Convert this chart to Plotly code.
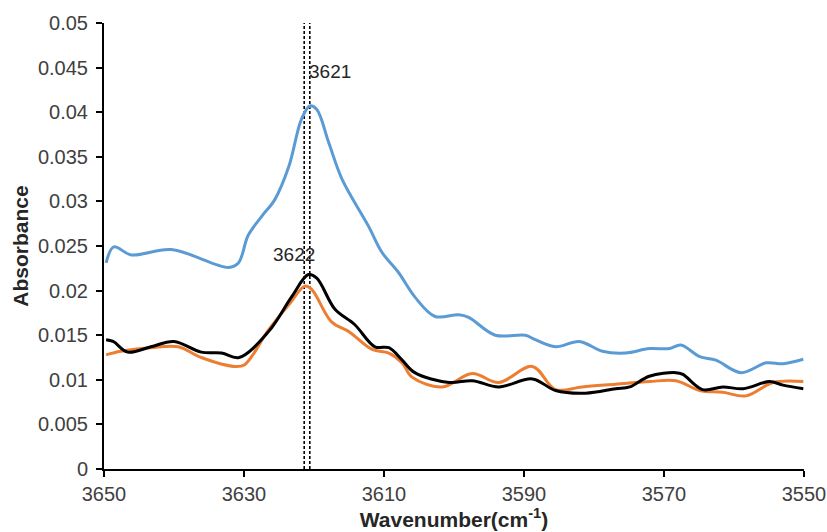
import plotly.graph_objects as go

# ---- data ----
blue_x = [3649.7, 3648.6, 3646.1, 3640.4, 3632.2, 3630.8, 3629.4, 3627.5, 3625.6, 3623.6,
          3621.8, 3620.6, 3619.6, 3617.9, 3616.0, 3612.2, 3610.3, 3607.9, 3605.6, 3602.7,
          3599.3, 3597.9, 3594.1, 3589.8, 3588.4, 3585.5, 3582.1, 3578.8, 3575.5, 3572.1,
          3569.2, 3567.6, 3564.9, 3562.6, 3559.0, 3555.4, 3553.0, 3550.1]
blue_y = [0.0231, 0.0249, 0.0240, 0.0246, 0.0226, 0.0231, 0.0262, 0.0283, 0.0302, 0.0339,
          0.0392, 0.0407, 0.0403, 0.0366, 0.0325, 0.0272, 0.0243, 0.0220, 0.0193, 0.0171,
          0.0173, 0.0170, 0.0150, 0.0150, 0.0145, 0.0137, 0.0143, 0.0132, 0.0130, 0.0135,
          0.0135, 0.0139, 0.0126, 0.0122, 0.0108, 0.0119, 0.0118, 0.0123]

orange_x = [3649.7, 3647.6, 3643.3, 3639.4, 3636.1, 3631.4, 3629.9, 3626.5, 3623.6, 3621.3,
            3620.3, 3617.5, 3615.0, 3611.7, 3609.3, 3607.4, 3606.0, 3601.7, 3597.4, 3593.6,
            3588.8, 3585.5, 3581.7, 3576.9, 3572.1, 3568.3, 3564.9, 3561.6, 3558.3, 3554.4,
            3550.1]
orange_y = [0.0128, 0.0132, 0.0136, 0.0137, 0.0125, 0.0115, 0.0117, 0.0156, 0.0184, 0.0205,
            0.0201, 0.0165, 0.0154, 0.0134, 0.0130, 0.0119, 0.0103, 0.0092, 0.0107, 0.0097,
            0.0115, 0.0089, 0.0092, 0.0095, 0.0098, 0.0099, 0.0088, 0.0086, 0.0082, 0.0097,
            0.0098]

black_x = [3649.7, 3648.7, 3646.6, 3643.3, 3640.0, 3636.1, 3633.2, 3630.7, 3626.5, 3623.2,
           3620.8, 3619.6, 3617.0, 3614.2, 3611.3, 3609.3, 3607.4, 3605.6, 3600.7, 3597.4,
           3593.6, 3588.8, 3585.5, 3581.2, 3576.9, 3574.9, 3572.1, 3568.3, 3567.3, 3564.5,
           3561.6, 3558.7, 3554.9, 3553.0, 3550.1]
black_y = [0.0145, 0.0143, 0.0131, 0.0137, 0.0143, 0.0131, 0.0130, 0.0125, 0.0154, 0.0193,
           0.0218, 0.0214, 0.0179, 0.0162, 0.0137, 0.0136, 0.0122, 0.0108, 0.0097, 0.0099,
           0.0092, 0.0101, 0.0088, 0.0085, 0.0090, 0.0092, 0.0104, 0.0108, 0.0106, 0.0089,
           0.0092, 0.0090, 0.0098, 0.0094, 0.0090]

marker_lines_x = [3621.4, 3620.6]
peak_labels = ["3621", "3622"]
peak_label_x = [3617.7, 3622.9]
peak_label_y = [0.0446, 0.0240]

x_ticks = [3650, 3630, 3610, 3590, 3570, 3550]
y_ticks = [0, 0.005, 0.01, 0.015, 0.02, 0.025, 0.03, 0.035, 0.04, 0.045, 0.05]
y_tick_text = ["0", "0.005", "0.01", "0.015", "0.02", "0.025", "0.03", "0.035", "0.04", "0.045", "0.05"]

FONT = "Liberation Sans, Arial, sans-serif"

fig = go.Figure()

for lx in marker_lines_x:
    fig.add_trace(go.Scatter(x=[lx, lx], y=[0, 0.05], mode="lines",
                             line=dict(color="black", width=1.6, dash="3px,2px"),
                             showlegend=False, hoverinfo="skip"))

fig.add_trace(go.Scatter(x=blue_x, y=blue_y, mode="lines", line_shape="spline",
                         line=dict(color="#5B9BD5", width=3), showlegend=False))
fig.add_trace(go.Scatter(x=orange_x, y=orange_y, mode="lines", line_shape="spline",
                         line=dict(color="#ED7D31", width=3), showlegend=False))
fig.add_trace(go.Scatter(x=black_x, y=black_y, mode="lines", line_shape="spline",
                         line=dict(color="#000000", width=3), showlegend=False))

for txt, ax_, ay_ in zip(peak_labels, peak_label_x, peak_label_y):
    fig.add_annotation(x=ax_, y=ay_, text=txt, showarrow=False,
                       font=dict(family=FONT, size=19, color="#262626"))

fig.update_layout(
    width=827, height=532,
    margin=dict(l=104, r=23, t=23, b=63),
    plot_bgcolor="white", paper_bgcolor="white",
    font=dict(family=FONT, size=20, color="#404040"),
    xaxis=dict(range=[3650, 3550], tickvals=x_ticks, ticks="outside", ticklen=6,
               tickwidth=2, tickcolor="black", showline=True, linecolor="black",
               linewidth=2, showgrid=False, zeroline=False, automargin=False,
               tickfont=dict(size=20, color="#404040"),
               title=dict(text="<b>Wavenumber(cm<sup>-1</sup>)</b>", standoff=2,
                          font=dict(size=21, color="#262626"))),
    yaxis=dict(range=[0, 0.05], tickvals=y_ticks, ticktext=y_tick_text, ticks="outside",
               ticklen=6, tickwidth=2, tickcolor="black", showline=True, linecolor="black",
               linewidth=2, showgrid=False, zeroline=False, automargin=False,
               ticklabelstandoff=4,
               tickfont=dict(size=20, color="#404040"),
               title=dict(text="<b>Absorbance</b>", standoff=4,
                          font=dict(size=21, color="#262626"))),
)

fig.write_html("out.html")
